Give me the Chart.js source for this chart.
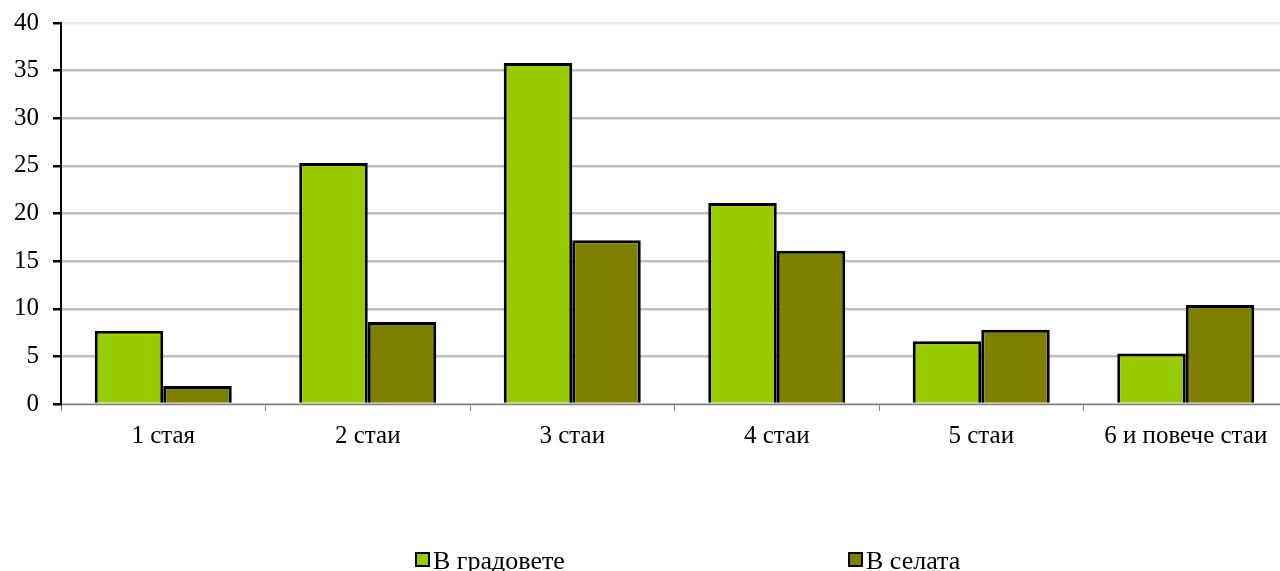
<!DOCTYPE html>
<html>
<head>
<meta charset="utf-8">
<script src="https://cdn.jsdelivr.net/npm/chart.js@4"></script>
<style>
    html, body { margin: 0; padding: 0; background: #fff; overflow: hidden; }
    #wrap { width: 1288px; height: 577px; position: relative; margin-top: -6px; }
</style>
</head>
<body>
<div id="wrap"><canvas id="myChart"></canvas></div>
<script>
let categories = ["1 стая", "2 стаи", "3 стаи", "4 стаи", "5 стаи", "6 и повече стаи"];
let seriesNames = ["В градовете", "В селата"];
let cityValues = [7.7, 25.3, 35.8, 21.1, 6.6, 5.3];
let villageValues = [1.9, 8.6, 17.2, 16.1, 7.8, 10.4];
let yTicks = [0, 5, 10, 15, 20, 25, 30, 35, 40];

const fontFamily = '"Liberation Serif", "Times New Roman", serif';
const colors = ['#99cc00', '#808000'];

// legend drawn by hand so the two items sit where the original has them
const legendX = [416, 849];
const bottomLegend = {
    id: 'bottomLegend',
    afterDraw(chart) {
        const c = chart.ctx;
        c.save();
        c.font = '26px ' + fontFamily;
        c.textBaseline = 'middle';
        chart.data.datasets.forEach((ds, i) => {
            const x = legendX[i];
            const y = 566;
            c.fillStyle = ds.backgroundColor;
            c.fillRect(x, y - 7, 13, 13);
            c.lineWidth = 2;
            c.strokeStyle = '#000';
            c.strokeRect(x, y - 7, 13, 13);
            c.fillStyle = '#000';
            c.fillText(ds.label, x + 17, y + 2);
        });
        c.restore();
    }
};

window.addEventListener("DOMContentLoaded", () => {
    const ctx = document.getElementById('myChart');

    new Chart(ctx, {
        type: 'bar',
        data: {
            labels: categories,
            datasets: [{
                label: seriesNames[0],
                data: cityValues,
                backgroundColor: colors[0],
                borderColor: '#000',
                borderWidth: 3
            }, {
                label: seriesNames[1],
                data: villageValues,
                backgroundColor: colors[1],
                borderColor: '#000',
                borderWidth: 3
            }]
        },
        options: {
            responsive: true,
            maintainAspectRatio: false,
            animation: false,
            layout: { padding: { top: 18, right: 0, left: 0, bottom: 0 } },
            datasets: {
                bar: { categoryPercentage: 0.67, barPercentage: 1.0 }
            },
            plugins: {
                legend: { display: false },
                tooltip: { enabled: false }
            },
            scales: {
                x: {
                    grid: {
                        offset: true,
                        drawOnChartArea: false,
                        drawTicks: true,
                        tickLength: 7,
                        tickColor: '#808080',
                        lineWidth: 1
                    },
                    border: { color: '#808080', width: 1 },
                    ticks: {
                        color: '#000',
                        padding: 10,
                        font: { family: fontFamily, size: 25 }
                    },
                    afterFit(scale) { scale.height = 167; }
                },
                y: {
                    min: 0,
                    max: 40,
                    afterBuildTicks(scale) {
                        scale.ticks = yTicks.map(v => ({ value: v }));
                    },
                    grid: {
                        color: (c) => c.tick && c.tick.value === 40 ? '#ebebeb' : '#c0c0c0',
                        lineWidth: 2.5,
                        tickColor: '#000',
                        tickLength: 8
                    },
                    border: { color: '#000', width: 2 },
                    ticks: {
                        color: '#000',
                        padding: 14,
                        font: { family: fontFamily, size: 25 }
                    },
                    afterFit(scale) { scale.width = 61; }
                }
            }
        },
        plugins: [bottomLegend]
    });
});
</script>
</body>
</html>
